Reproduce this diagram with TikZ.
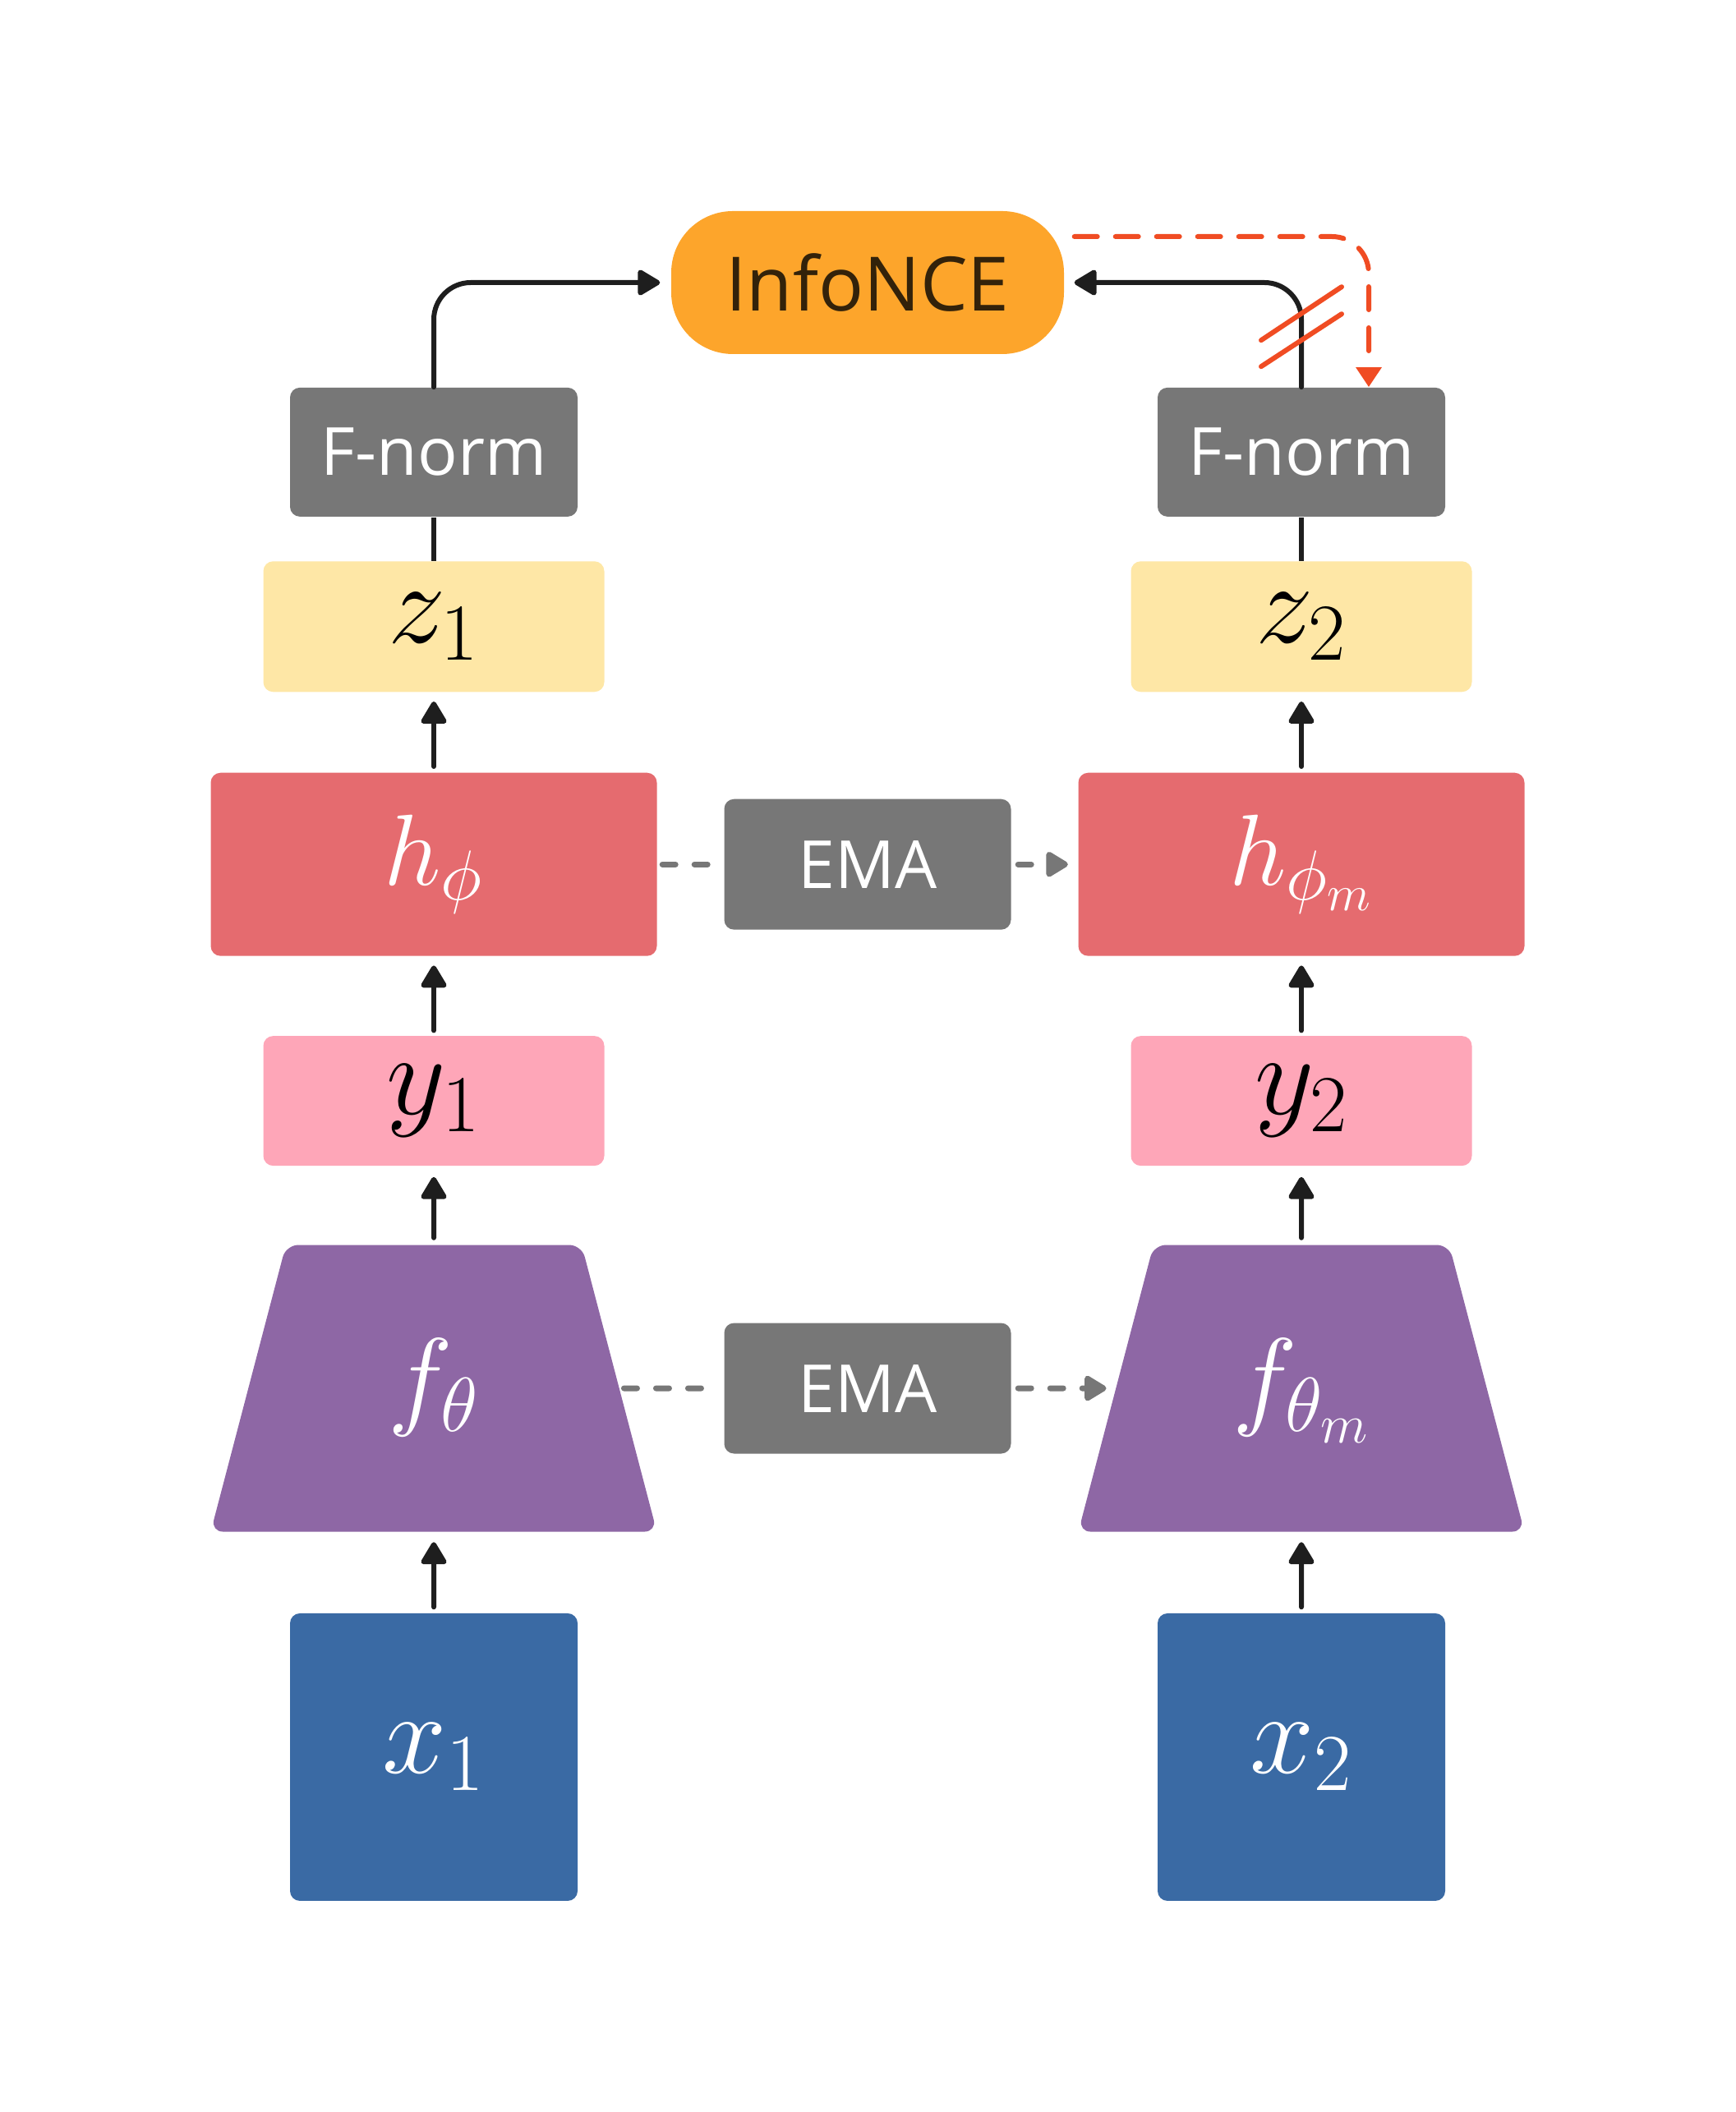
\RequirePackage{fix-cm}
\documentclass[tikz,border=0pt]{standalone}
\usepackage{fontspec}
\newfontfamily\labelfont{Open Sans}
\usetikzlibrary{%
  positioning,%
  shapes.geometric,%
  arrows.meta%
}
\definecolor{lossorange}{HTML}{FDA52B}
\definecolor{losstext}{HTML}{33220A}
\definecolor{opgray}{HTML}{777777}
\definecolor{zyellow}{HTML}{FEE7A6}
\definecolor{hred}{HTML}{E56B6F}
\definecolor{ypink}{HTML}{FEA6B8}
\definecolor{fpurple}{HTML}{8E67A5}
\definecolor{xblue}{HTML}{3A6AA4}
\definecolor{cutred}{HTML}{F04C23}
\definecolor{arrowblack}{HTML}{1E1E1E}

\begin{document}
\begin{tikzpicture}[
    box/.style={rectangle, rounded corners=0.12cm, inner sep=0pt},
    encoder/.style={trapezium, trapezium angle=75.3, trapezium stretches body,
        rounded corners=0.15cm, fill=fpurple, inner sep=0pt,
        minimum width=5.43cm, text height=2.07cm, text depth=1.42cm,
        font=\fontsize{38}{46}\selectfont, text=white},
    mathlbl/.style={font=\fontsize{40}{48}\selectfont},
    textlbl/.style={font=\labelfont\fontsize{23}{28}\selectfont, text=white},
    flow/.style={draw=arrowblack, line width=0.06cm, line cap=round,
        -{Triangle[length=0.3cm,width=0.34cm,round]}},
    ema/.style={draw=opgray, line width=0.07cm, line cap=round,
        dash pattern=on 0.16cm off 0.23cm},
    emaarrow/.style={ema, -{Triangle[length=0.3cm,width=0.34cm,round]}}
]
    \useasboundingbox (0,0) rectangle (21.12,25.71);
    % inputs
    \node[box, fill=xblue, minimum width=3.5cm, minimum height=3.5cm,
        mathlbl, text=white] (x1) at (5.28,4.32) {$x_1$};
    \node[box, fill=xblue, minimum width=3.5cm, minimum height=3.5cm,
        mathlbl, text=white] (x2) at (15.84,4.32) {$x_2$};
    % encoders
    \node[encoder, above=0.98cm of x1] (f1) {$f_\theta$};
    \node[encoder, above=0.98cm of x2] (f2) {$f_{\theta_m}$};
    \node[box, fill=ypink, minimum width=4.15cm, minimum height=1.58cm,
        mathlbl, above=0.95cm of f1] (y1) {$y_1$};
    \node[box, fill=ypink, minimum width=4.15cm, minimum height=1.58cm,
        mathlbl, above=0.95cm of f2] (y2) {$y_2$};
    % projectors
    \node[box, fill=hred, minimum width=5.43cm, minimum height=2.23cm,
        font=\fontsize{35}{42}\selectfont, text=white,
        above=0.96cm of y1] (h1) {$h_\phi$};
    \node[box, fill=hred, minimum width=5.43cm, minimum height=2.23cm,
        font=\fontsize{35}{42}\selectfont, text=white,
        above=0.96cm of y2] (h2) {$h_{\phi_m}$};
    \node[box, fill=zyellow, minimum width=4.15cm, minimum height=1.59cm,
        mathlbl, above=0.97cm of h1] (z1) {$z_1$};
    \node[box, fill=zyellow, minimum width=4.15cm, minimum height=1.59cm,
        mathlbl, above=0.97cm of h2] (z2) {$z_2$};
    \node[box, fill=opgray, minimum width=3.5cm, minimum height=1.57cm,
        textlbl, above=0.53cm of z1] (n1) {F-norm};
    \node[box, fill=opgray, minimum width=3.5cm, minimum height=1.57cm,
        textlbl, above=0.53cm of z2] (n2) {F-norm};
    % loss and momentum updates
    \node[box, rounded corners=0.75cm, fill=lossorange, minimum width=4.78cm,
        minimum height=1.74cm, font=\labelfont\fontsize{26}{32}\selectfont,
        text=losstext] (loss) at (10.56,22.27) {InfoNCE};
    \node[box, fill=opgray, minimum width=3.49cm, minimum height=1.59cm,
        textlbl] (ema1) at (h1 -| loss) {EMA};
    \node[box, fill=opgray, minimum width=3.49cm, minimum height=1.59cm,
        textlbl] (ema2) at (f1 -| loss) {EMA};

    \draw[flow, shorten <=0.07cm, shorten >=0.12cm] (x1) -- (f1);
    \draw[flow, shorten <=0.07cm, shorten >=0.12cm] (x2) -- (f2);
    \draw[flow, shorten <=0.08cm, shorten >=0.13cm] (f1) -- (y1);
    \draw[flow, shorten <=0.08cm, shorten >=0.13cm] (f2) -- (y2);
    \draw[flow, shorten <=0.06cm, shorten >=0.11cm] (y1) -- (h1);
    \draw[flow, shorten <=0.06cm, shorten >=0.11cm] (y2) -- (h2);
    \draw[flow, shorten <=0.07cm, shorten >=0.11cm] (h1) -- (z1);
    \draw[flow, shorten <=0.07cm, shorten >=0.11cm] (h2) -- (z2);
    \draw[draw=arrowblack, line width=0.06cm] (z1) -- (n1);
    \draw[draw=arrowblack, line width=0.06cm] (z2) -- (n2);
    \draw[flow, rounded corners=0.45cm, shorten >=0.13cm] (n1.north) |- (loss.west);
    \draw[flow, rounded corners=0.45cm, shorten >=0.12cm] (n2.north) |- (loss.east);

    \draw[ema, shorten <=0.06cm, shorten >=0.15cm] (h1.east) -- (ema1.west);
    \draw[emaarrow, shorten <=0.08cm, shorten >=0.12cm] (ema1.east) -- (h2.west);
    \draw[ema, shorten <=0.05cm, shorten >=0.15cm] (f1.east) -- (ema2.west);
    \draw[emaarrow, shorten <=0.08cm, shorten >=0.11cm] (ema2.east) -- (f2.west);

    % stop-gradient
    \draw[draw=cutred, line width=0.06cm, line cap=round,
        dash pattern=on 0.28cm off 0.22cm, rounded corners=0.45cm,
        -{Triangle[length=0.24cm,width=0.3cm]}]
        ([xshift=0.12cm, yshift=0.56cm]loss.east) -| ([xshift=0.82cm]n2.north);
    \draw[draw=cutred, line width=0.06cm, line cap=round]
        ([shift={(-0.49,0.57)}]n2.north) -- ++(0.98,0.65);
    \draw[draw=cutred, line width=0.06cm, line cap=round]
        ([shift={(-0.49,0.25)}]n2.north) -- ++(0.98,0.64);
\end{tikzpicture}
\end{document}
